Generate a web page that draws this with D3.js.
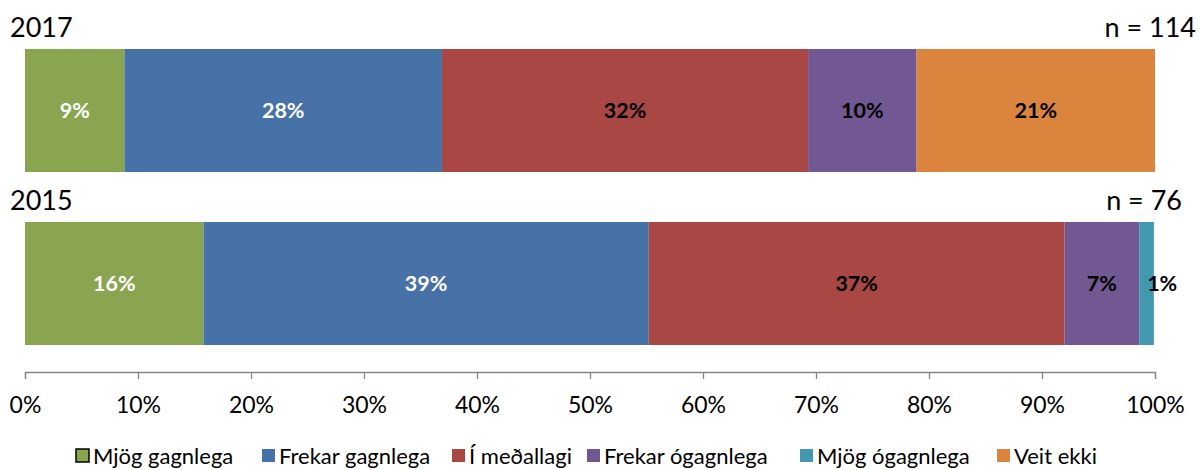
<!DOCTYPE html>
<html>
<head>
<meta charset="utf-8">
<script src="https://cdn.jsdelivr.net/npm/d3@7"></script>
<style>
  body { margin: 0; background: #fff; }
  svg { font-family: Lato, "Open Sans", sans-serif; }
</style>
</head>
<body>
<div id="container"></div>
<script>
var width = 1204;
var height = 470;

// categories and values (share of answers, %)
var categories = ["Mjög gagnlega", "Frekar gagnlega", "Í meðallagi", "Frekar ógagnlega", "Mjög ógagnlega", "Veit ekki"];
var colors = ["#8AA550", "#4672A7", "#A84744", "#715892", "#4298AF", "#DB843D"];
var labelColors = ["#fff", "#fff", "#000", "#000", "#000", "#000"];
var years = ["2017", "2015"];
var nLabels = ["n = 114", "n = 76"];
var values2017 = [8.8, 28.1, 32.4, 9.6, 0, 21.1];
var values2015 = [15.8, 39.4, 36.8, 6.6, 1.3, 0];
var tickValues = [0, 10, 20, 30, 40, 50, 60, 70, 80, 90, 100];

var rows = [values2017, values2015];

const SVG = d3.select("#container")
              .append("svg")
              .attr("width", width)
              .attr("height", height);

const x = d3.scaleLinear().domain([0, 100]).range([25, 1155]);
const y = d3.scaleBand().domain(years).range([49, 345]).paddingInner(0.289);

// build stacked segments
var segments = [];
rows.forEach(function(vals, r) {
  var acc = 0;
  vals.forEach(function(v, i) {
    segments.push({year: years[r], i: i, v: v, x0: acc, x1: acc + v});
    acc += v;
  });
});

SVG.selectAll("rect.seg")
   .data(segments.filter(d => d.v > 0))
   .enter()
   .append("rect")
   .attr("class", "seg")
   .attr("x", d => x(d.x0))
   .attr("y", d => y(d.year))
   .attr("width", d => x(d.x1) - x(d.x0))
   .attr("height", y.bandwidth())
   .attr("fill", d => colors[d.i]);

SVG.selectAll("text.val")
   .data(segments.filter(d => d.v > 0))
   .enter()
   .append("text")
   .attr("class", "val")
   .attr("x", function(d) {
     var w = x(d.x1) - x(d.x0);
     return w < 30 ? x(d.x0) + 23 : (x(d.x0) + x(d.x1)) / 2;
   })
   .attr("y", d => y(d.year) + y.bandwidth() / 2)
   .attr("dy", "0.35em")
   .attr("text-anchor", "middle")
   .attr("font-size", "21.5px")
   .attr("font-weight", "bold")
   .attr("fill", d => labelColors[d.i])
   .text(d => Math.round(d.v) + "%");

// year titles and n
SVG.selectAll("text.year")
   .data(years)
   .enter()
   .append("text")
   .attr("class", "year")
   .attr("x", 10)
   .attr("y", d => y(d) - 12)
   .attr("font-size", "27px")
   .attr("fill", "#000")
   .text(d => d);

SVG.selectAll("text.n")
   .data(nLabels)
   .enter()
   .append("text")
   .attr("class", "n")
   .attr("x", (d, i) => i == 0 ? 1196 : 1182)
   .attr("y", (d, i) => y(years[i]) - 12)
   .attr("text-anchor", "end")
   .attr("font-size", "27px")
   .attr("fill", "#000")
   .text(d => d);

// x axis
const axis = d3.axisBottom(x)
               .tickValues(tickValues)
               .tickSize(7)
               .tickPadding(18)
               .tickFormat(d => d + "%");

const AX = SVG.append("g")
              .attr("transform", "translate(0,372)")
              .call(axis);
AX.select(".domain").attr("stroke", "#868686").attr("stroke-width", 1.3);
AX.selectAll(".tick line").attr("stroke", "#868686").attr("stroke-width", 1.3);
AX.selectAll(".tick text")
  .attr("font-size", "23px")
  .attr("font-family", "Lato, 'Open Sans', sans-serif")
  .attr("fill", "#000");

// legend
var legendX = [76, 262, 452, 587, 800, 997];
const LEGEND = SVG.selectAll("g.legend-item")
                  .data(categories)
                  .enter()
                  .append("g")
                  .attr("class", "legend-item")
                  .attr("transform", (d, i) => `translate(${legendX[i]},449)`);

LEGEND.append("rect")
      .attr("width", 13)
      .attr("height", 13)
      .attr("fill", (d, i) => colors[i])
      .attr("stroke", (d, i) => i == 0 ? "#000" : "none")
      .attr("stroke-width", 1.5);

LEGEND.append("text")
      .attr("x", 17)
      .attr("y", 7)
      .attr("dy", "0.35em")
      .attr("font-size", "22px")
      .attr("fill", "#000")
      .text(d => d);
</script>
</body>
</html>
